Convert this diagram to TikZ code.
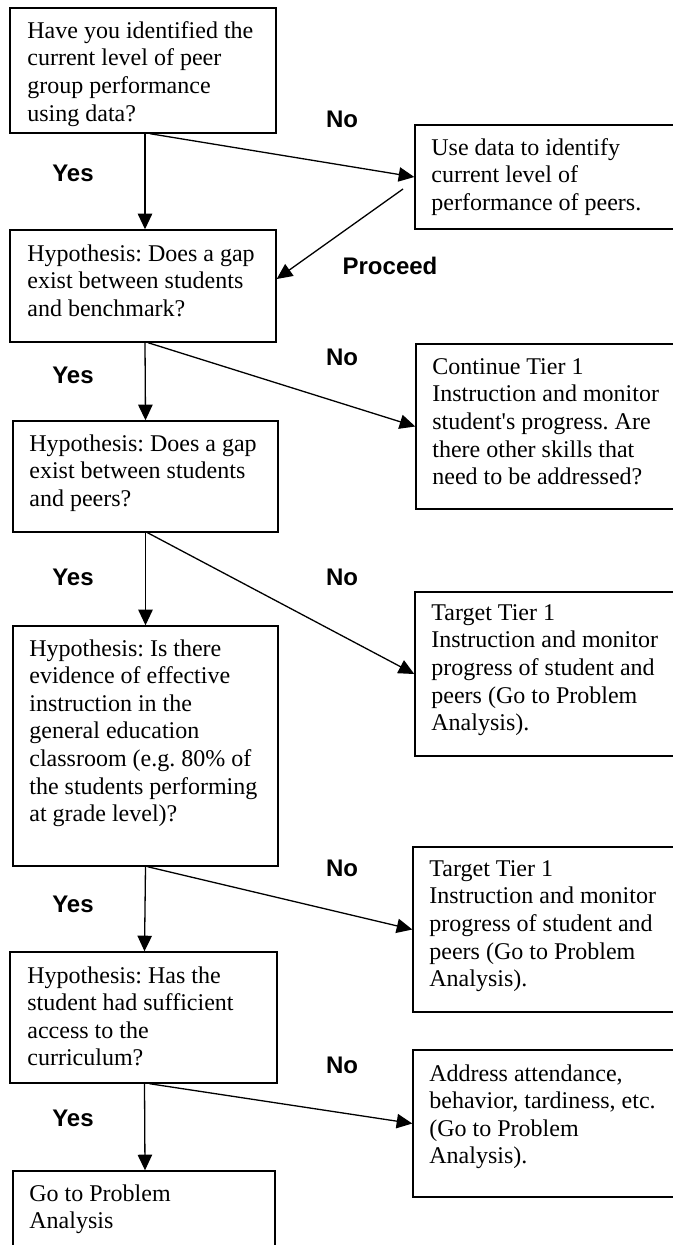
\documentclass[tikz,border=0pt]{standalone}
\usepackage{fontspec}
\setmainfont{Liberation Serif}
\newfontfamily\labelfont{Liberation Sans}
\usetikzlibrary{arrows.meta,fit,calc}
\frenchspacing
\begin{document}
\begin{tikzpicture}[x=0.5pt,y=-0.5pt,
  box/.style={draw, line width=0.7pt, inner sep=0pt},
  txt/.style={anchor=north west, inner sep=0pt, align=left,
    font=\fontsize{12}{13.8}\selectfont},
  lbl/.style={font=\labelfont\bfseries\fontsize{12}{14}\selectfont, inner sep=0pt},
  arr/.style={line width=0.65pt, -{Triangle[length=7.8pt,width=7.2pt]}}]
\clip (0,0) rectangle (673,1245);

% left column: questions
\node[box, fit={(10,8)(276,133)}] (b1) {};
\node[txt] (t1) at (27,21) {Have you identified the\\current level of peer\\group performance\\using data?};

\node[box, fit={(10,230)(276,342)}] (b3) {};
\node[txt] (t3) at (27,244) {Hypothesis: Does a gap\\exist between students\\and benchmark?};

\node[box, fit={(13,421)(278,532)}] (b5) {};
\node[txt] (t5) at (29,434) {Hypothesis: Does a gap\\exist between students\\and peers?};

\node[box, fit={(13,626)(278,866)}] (b7) {};
\node[txt] (t7) at (29,639) {Hypothesis: Is there\\evidence of effective\\instruction in the\\general education\\classroom (e.g. 80\% of\\the students performing\\at grade level)?};

\node[box, fit={(10,952)(277,1083)}] (b9) {};
\node[txt] (t9) at (27,966) {Hypothesis: Has the\\student had sufficient\\access to the\\curriculum?};

\node[box, fit={(13,1171)(275,1260)}] (b11) {};
\node[txt] (t11) at (29,1184) {Go to Problem\\Analysis};

% right column: actions
\node[box, fit={(415,125)(690,229)}] (b2) {};
\node[txt] (t2) at (431,138) {Use data to identify\\current level of\\performance of peers.};

\node[box, fit={(416,344)(690,509)}] (b4) {};
\node[txt] (t4) at (432,358) {Continue Tier 1\\Instruction and monitor\\student\textquotesingle s progress. Are\\there other skills that\\need to be addressed?};

\node[box, fit={(415,592)(690,756)}] (b6) {};
\node[txt] (t6) at (431,604) {Target Tier 1\\Instruction and monitor\\progress of student and\\peers (Go to Problem\\Analysis).};

\node[box, fit={(413,847)(690,1012)}] (b8) {};
\node[txt] (t8) at (429,860) {Target Tier 1\\Instruction and monitor\\progress of student and\\peers (Go to Problem\\Analysis).};

\node[box, fit={(413,1050)(690,1197)}] (b10) {};
\node[txt] (t10) at (429,1064) {Address attendance,\\behavior, tardiness, etc.\\(Go to Problem\\Analysis).};

% start of the "Proceed" connector
\coordinate (p0) at (403,189);

% connectors
\draw[arr] ($(b1.south)+(2,0)$) -- ($(b3.north)+(2,0)$);
\draw[arr] ($(b1.south)+(7,0)$) -- (b2.west);
\draw[arr] (p0) -- ($(b3.east)+(0,-7)$);
\draw[arr] ($(b3.south)+(2,0)$) -- ($(b5.north)+(0,0)$);
\draw[arr] ($(b3.south)+(5,0)$) -- (b4.west);
\draw[arr] ($(b5.south)+(0,0)$) -- ($(b7.north)+(0,0)$);
\draw[arr] ($(b5.south)+(2,0)$) -- (b6.west);
\draw[arr] ($(b7.south)+(0,0)$) -- ($(b9.north)+(1,0)$);
\draw[arr] ($(b7.south)+(2,0)$) -- (b8.west);
\draw[arr] ($(b9.south)+(1,0)$) -- ($(b11.north)+(1,0)$);
\draw[arr] ($(b9.south)+(6,0)$) -- (b10.west);

% branch labels
\node[lbl] (y1) at (73,173) {Yes};
\node[lbl] (y2) at (73,375) {Yes};
\node[lbl] (y3) at (73,577) {Yes};
\node[lbl] (y4) at (73,904) {Yes};
\node[lbl] (y5) at (73,1118) {Yes};
\node[lbl] (n1) at (342,119) {No};
\node[lbl] (n2) at (342,357) {No};
\node[lbl] (n3) at (342,577) {No};
\node[lbl] (n4) at (342,868) {No};
\node[lbl] (n5) at (342,1065) {No};
\node[lbl] (pr) at (390,266) {Proceed};
\end{tikzpicture}
\end{document}
